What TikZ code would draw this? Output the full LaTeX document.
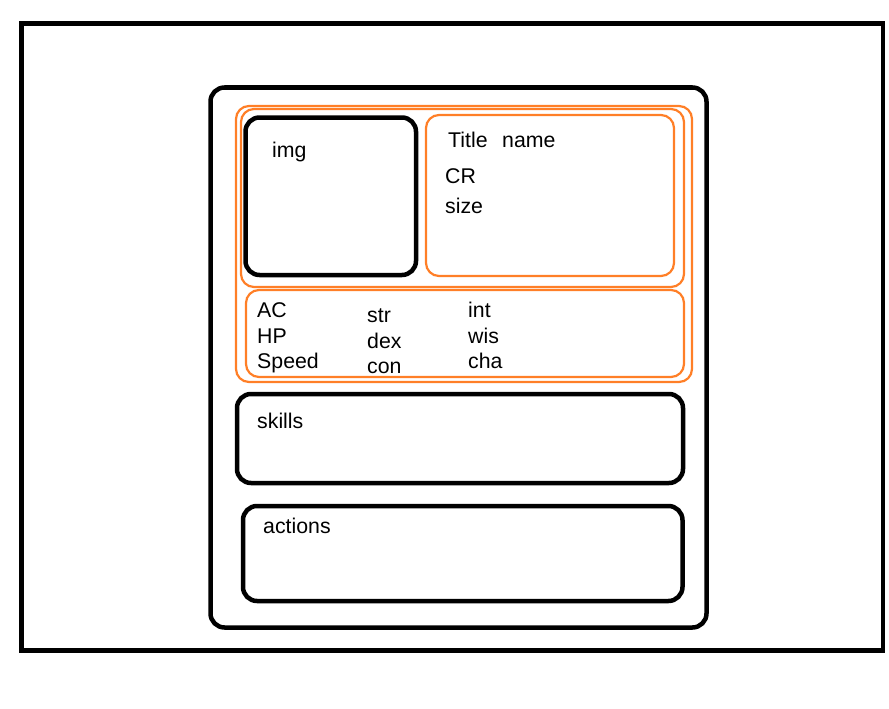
\documentclass[tikz,border=0pt]{standalone}
\usepackage{fontspec}
\setmainfont{Liberation Sans}
\definecolor{paintorange}{HTML}{FF7F27}
\begin{document}
\begin{tikzpicture}[x=1pt,y=-1pt,
  blackbox/.style={draw=black,line width=4.5pt,rounded corners=14pt},
  orangebox/.style={draw=paintorange,line width=2.2pt,rounded corners=13pt},
  frame/.style={draw=black,line width=4.5pt},
  lbl/.style={anchor=base west,inner sep=0pt,font=\fontsize{21.3}{25}\selectfont}]
\useasboundingbox (0,0) rectangle (889,709);
\draw[frame] (21.5,23.5) rectangle (883,650.5);
\draw[blackbox] (210.5,87.5) rectangle (706.5,627.5);
\draw[orangebox] (236,106) rectangle (692,382);
\draw[orangebox] (241,109) rectangle (684,287);
\draw[blackbox] (245.5,117.5) rectangle (416,275);
\draw[orangebox] (426,115) rectangle (674,276);
\draw[orangebox] (246,290) rectangle (684,377);
\draw[blackbox] (237,394) rectangle (683,483);
\draw[blackbox] (243,506) rectangle (682.5,601);
\node[lbl] (img) at (272,157) {img};
\node[lbl] (title) at (448,147) {Title};
\node[lbl] (name) at (502,147) {name};
\node[lbl] (cr) at (445,183) {CR};
\node[lbl] (size) at (445,213) {size};
\node[lbl] (ac) at (257,317) {AC};
\node[lbl] (hp) at (257,343) {HP};
\node[lbl] (speed) at (257,368) {Speed};
\node[lbl] (str) at (367,322) {str};
\node[lbl] (dex) at (367,348) {dex};
\node[lbl] (con) at (367,373) {con};
\node[lbl] (int) at (468,317) {int};
\node[lbl] (wis) at (468,343) {wis};
\node[lbl] (cha) at (468,368) {cha};
\node[lbl] (skills) at (257,428) {skills};
\node[lbl] (actions) at (263,533) {actions};
\end{tikzpicture}
\end{document}
